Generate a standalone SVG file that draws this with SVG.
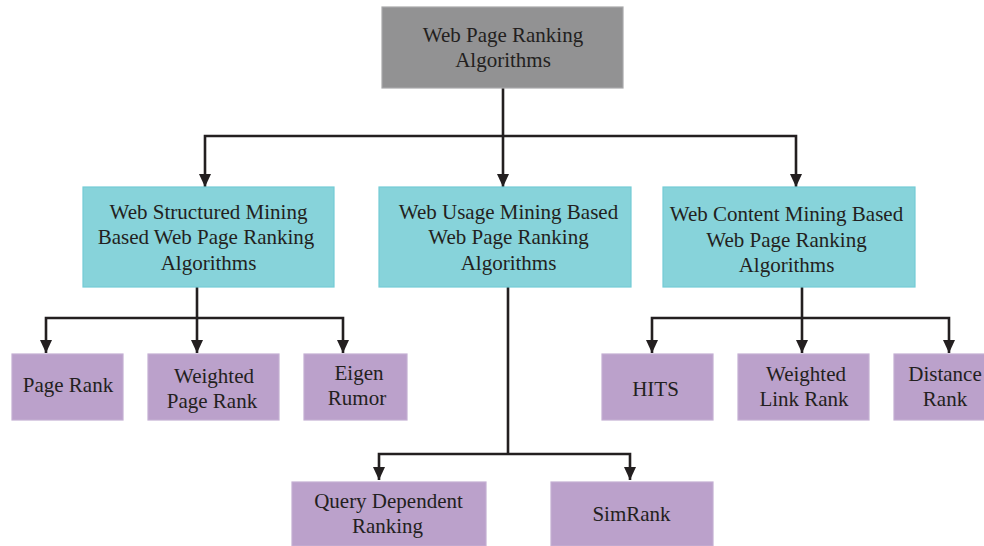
<svg xmlns="http://www.w3.org/2000/svg" width="984" height="546" viewBox="0 0 984 546">
  <defs>
    <marker id="arrow" viewBox="0 0 13 12" markerUnits="userSpaceOnUse" markerWidth="13" markerHeight="12" refX="13" refY="6" orient="auto-start-reverse">
      <path d="M0,0 L13,6 L0,12 Z" fill="#231f20"/>
    </marker>
    <style>
      text { font-family: "Liberation Serif", "Times New Roman", serif; font-size: 21px; fill: #231f20; text-anchor: middle; }
      .root { fill: #929293; stroke: #a9a9aa; stroke-width: 1.2; }
      .mid { fill: #87d3da; stroke: #74ccd6; stroke-width: 1.2; }
      .leaf { fill: #bba1cb; stroke: #c4afd3; stroke-width: 1.2; }
      .conn path { fill: none; stroke: #231f20; stroke-width: 2.6; stroke-linejoin: miter; }
    </style>
  </defs>
  <rect width="984" height="546" fill="#ffffff"/>

  <!-- connectors -->
  <g class="conn">
    <path d="M503,88 V187" marker-end="url(#arrow)"/>
    <path d="M205,187 V136 H796 V187" marker-start="url(#arrow)" marker-end="url(#arrow)"/>
    <path d="M197,287 V353" marker-end="url(#arrow)"/>
    <path d="M46,353 V318 H343 V353" marker-start="url(#arrow)" marker-end="url(#arrow)"/>
    <path d="M802,287 V353" marker-end="url(#arrow)"/>
    <path d="M652,353 V318 H949 V353" marker-start="url(#arrow)" marker-end="url(#arrow)"/>
    <path d="M508,287 V454"/>
    <path d="M379,480 V454 H630 V480" marker-start="url(#arrow)" marker-end="url(#arrow)"/>
  </g>

  <!-- root -->
  <g id="root">
    <rect class="root" x="382" y="7" width="241" height="81"/>
    <text x="503" y="41.5">Web Page Ranking</text>
    <text x="503" y="66.5">Algorithms</text>
  </g>

  <!-- second level -->
  <g id="structured">
    <rect class="mid" x="83" y="187" width="251" height="100"/>
    <text x="208.5" y="218.5">Web Structured Mining</text>
    <text x="206" y="244">Based Web Page Ranking</text>
    <text x="208.5" y="269.5">Algorithms</text>
  </g>
  <g id="usage">
    <rect class="mid" x="379" y="187" width="252" height="100"/>
    <text x="508.5" y="218.5">Web Usage Mining Based</text>
    <text x="508.5" y="244">Web Page Ranking</text>
    <text x="508.5" y="269.5">Algorithms</text>
  </g>
  <g id="content">
    <rect class="mid" x="663" y="187" width="252" height="100"/>
    <text x="786.5" y="221">Web Content Mining Based</text>
    <text x="786.5" y="246.5">Web Page Ranking</text>
    <text x="786.5" y="272">Algorithms</text>
  </g>

  <!-- structured mining leaves -->
  <g id="pagerank">
    <rect class="leaf" x="12" y="354" width="111" height="66"/>
    <text x="68" y="392">Page Rank</text>
  </g>
  <g id="weightedpagerank">
    <rect class="leaf" x="148" y="354" width="131" height="66"/>
    <text x="214" y="383">Weighted</text>
    <text x="212" y="408">Page Rank</text>
  </g>
  <g id="eigenrumor">
    <rect class="leaf" x="304" y="354" width="103" height="66"/>
    <text x="359" y="379.5">Eigen</text>
    <text x="357" y="405">Rumor</text>
  </g>

  <!-- content mining leaves -->
  <g id="hits">
    <rect class="leaf" x="602" y="354" width="111" height="66"/>
    <text x="655.5" y="396">HITS</text>
  </g>
  <g id="weightedlinkrank">
    <rect class="leaf" x="738" y="354" width="131" height="66"/>
    <text x="806" y="380.5">Weighted</text>
    <text x="804" y="405.5">Link Rank</text>
  </g>
  <g id="distancerank">
    <rect class="leaf" x="894" y="354" width="103" height="66"/>
    <text x="945" y="380.5">Distance</text>
    <text x="945" y="405.5">Rank</text>
  </g>

  <!-- usage mining leaves -->
  <g id="querydependent">
    <rect class="leaf" x="292" y="482" width="194" height="64"/>
    <text x="388.5" y="508">Query Dependent</text>
    <text x="387.5" y="532.5">Ranking</text>
  </g>
  <g id="simrank">
    <rect class="leaf" x="551" y="482" width="162" height="64"/>
    <text x="631.5" y="521">SimRank</text>
  </g>
</svg>
